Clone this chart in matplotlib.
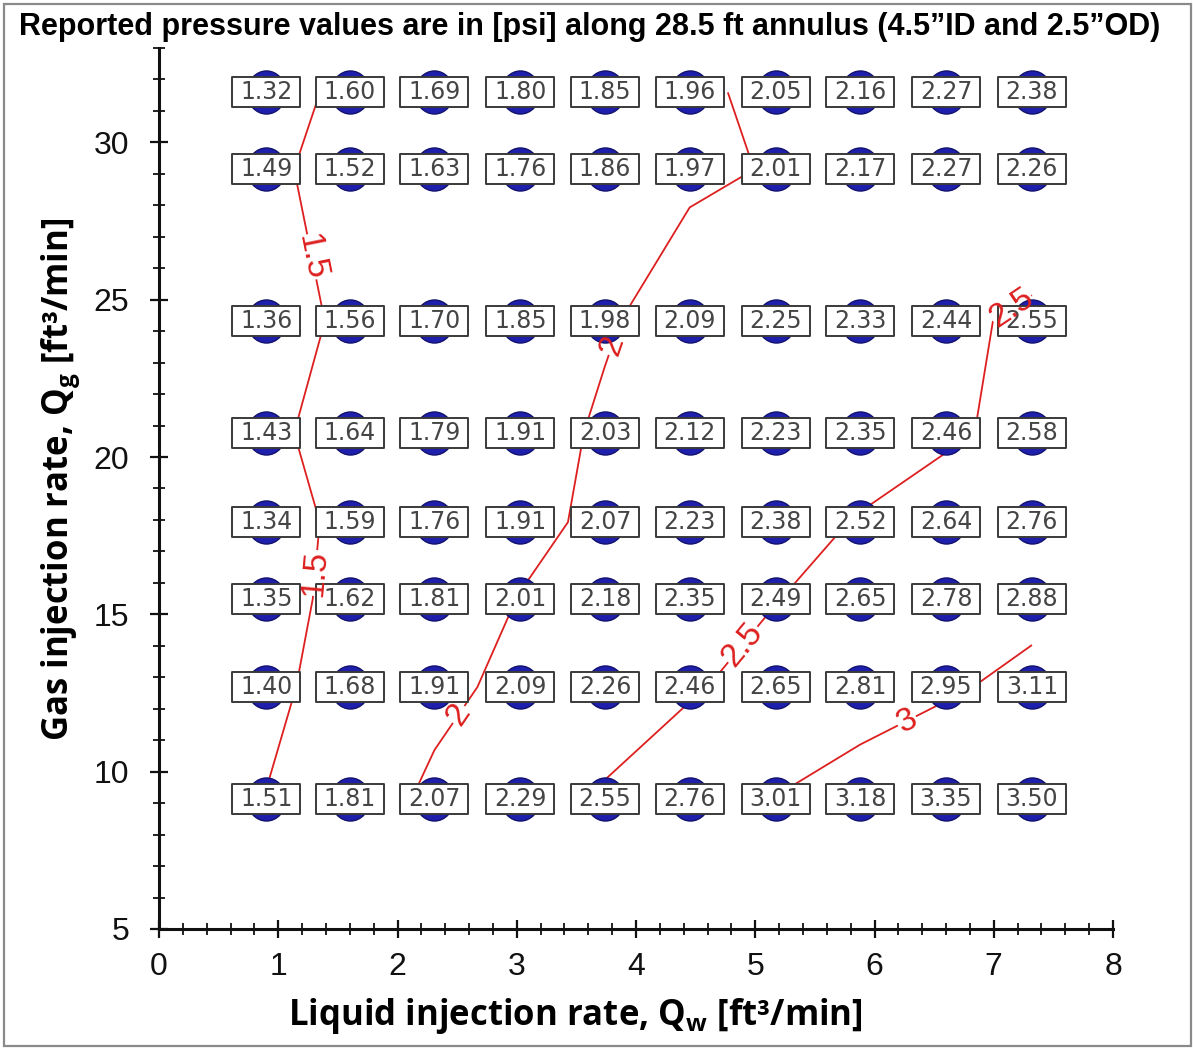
import numpy as np
import matplotlib.pyplot as plt
from matplotlib.path import Path
from matplotlib.transforms import Affine2D
from matplotlib.patches import Rectangle

plt.rcParams['mathtext.fontset'] = 'custom'
plt.rcParams['mathtext.rm'] = 'Open Sans:bold'
plt.rcParams['mathtext.default'] = 'rm'

# liquid rate columns [ft3/min] and gas rate rows [ft3/min]
q_liquid = [0.90, 1.60, 2.31, 3.03, 3.74, 4.45, 5.17, 5.88, 6.60, 7.32]
q_gas = [9.13, 12.69, 15.48, 17.93, 20.77, 24.31, 29.14, 31.59]

# pressure drop [psi], one row per gas rate (bottom to top)
p_9 = [1.51, 1.81, 2.07, 2.29, 2.55, 2.76, 3.01, 3.18, 3.35, 3.50]
p_13 = [1.40, 1.68, 1.91, 2.09, 2.26, 2.46, 2.65, 2.81, 2.95, 3.11]
p_15 = [1.35, 1.62, 1.81, 2.01, 2.18, 2.35, 2.49, 2.65, 2.78, 2.88]
p_18 = [1.34, 1.59, 1.76, 1.91, 2.07, 2.23, 2.38, 2.52, 2.64, 2.76]
p_21 = [1.43, 1.64, 1.79, 1.91, 2.03, 2.12, 2.23, 2.35, 2.46, 2.58]
p_24 = [1.36, 1.56, 1.70, 1.85, 1.98, 2.09, 2.25, 2.33, 2.44, 2.55]
p_29 = [1.49, 1.52, 1.63, 1.76, 1.86, 1.97, 2.01, 2.17, 2.27, 2.26]
p_32 = [1.32, 1.60, 1.69, 1.80, 1.85, 1.96, 2.05, 2.16, 2.27, 2.38]

levels = [1.5, 2.0, 2.5, 3.0]
label_spots = [(1.33, 26.4), (1.35, 16.3), (3.84, 23.5), (2.52, 11.8),
               (4.91, 14.0), (7.14, 24.8), (6.26, 11.7)]

P = np.array([p_9, p_13, p_15, p_18, p_21, p_24, p_29, p_32])
X, Y = np.meshgrid(q_liquid, q_gas)

fig = plt.figure(figsize=(11.93, 10.49), dpi=100)
ax = fig.add_axes([159/1193, 120/1049, 954/1193, 881/1049])

cs = ax.contour(X, Y, P, levels=levels, colors='#dd1f1f', linewidths=1.3, zorder=1)
lbls = ax.clabel(cs, levels, inline=True, inline_spacing=2, fontsize=24,
                 fmt=lambda v: '%g' % v, manual=label_spots)
for t in lbls:
    t.set_zorder(6)
    t.set_family('Liberation Sans')

# blue dots under white value boxes
oval = Path.unit_circle().transformed(Affine2D().scale(0.9, 1.0))
ax.plot(X.ravel(), Y.ravel(), ls='', marker=oval, ms=31, mfc='#1f1fae',
        mec='#12126e', mew=1, zorder=2)
box = Path([(-0.5, -0.215), (0.5, -0.215), (0.5, 0.215), (-0.5, 0.215), (-0.5, -0.215)],
           [Path.MOVETO, Path.LINETO, Path.LINETO, Path.LINETO, Path.CLOSEPOLY])
ax.plot(X.ravel(), Y.ravel(), ls='', marker=box, ms=49, mfc='white',
        mec='#3a3a3a', mew=1.4, zorder=3)
for xv, yv, pv in zip(X.ravel(), Y.ravel(), P.ravel()):
    ax.text(xv, yv, '%.2f' % pv, ha='center', va='center', fontsize=17,
            color='#454545', family='DejaVu Sans', zorder=4)

ax.set_xlim(0, 8)
ax.set_ylim(5, 33)
ax.set_xticks(range(0, 9))
ax.set_yticks([5, 10, 15, 20, 25, 30])
ax.set_xticks(np.arange(0, 8.01, 0.2), minor=True)
ax.set_yticks(range(5, 34), minor=True)
for s in ['top', 'right']:
    ax.spines[s].set_visible(False)
for s in ['left', 'bottom']:
    ax.spines[s].set_linewidth(2.2)
    ax.spines[s].set_color('#111111')
ax.tick_params(which='major', direction='inout', length=13, width=1.6, color='#111111',
               labelsize=23)
ax.tick_params(which='minor', direction='inout', length=8, width=1.3, color='#111111')
ax.tick_params(axis='x', which='major', pad=10)
ax.tick_params(axis='y', which='major', pad=15)
for t in ax.get_xticklabels() + ax.get_yticklabels():
    t.set_family('Liberation Sans')
    t.set_color('#111111')

ax.set_xlabel(r'Liquid injection rate, Q$_{w}$ [ft³/min]', fontsize=25,
              family='Open Sans', weight='bold')
ax.set_ylabel(r'Gas injection rate, Q$_{g}$ [ft³/min]', fontsize=25,
              family='Open Sans', weight='bold')
ax.xaxis.set_label_coords(0.436, -0.076)
ax.yaxis.set_label_coords(-0.081, 0.51)

fig.text(590/1193, 1 - 27/1049,
         'Reported pressure values are in [psi] along 28.5 ft annulus (4.5\u201dID and 2.5\u201dOD)',
         ha='center', va='center', fontsize=22, weight='bold', family='Liberation Sans')
fig.patches.append(Rectangle((4/1193, 3/1049), 1187/1193, 1042/1049, transform=fig.transFigure,
                             fill=False, edgecolor='#8a8a8a', linewidth=1.6))

fig.savefig('out.png', dpi=100)
